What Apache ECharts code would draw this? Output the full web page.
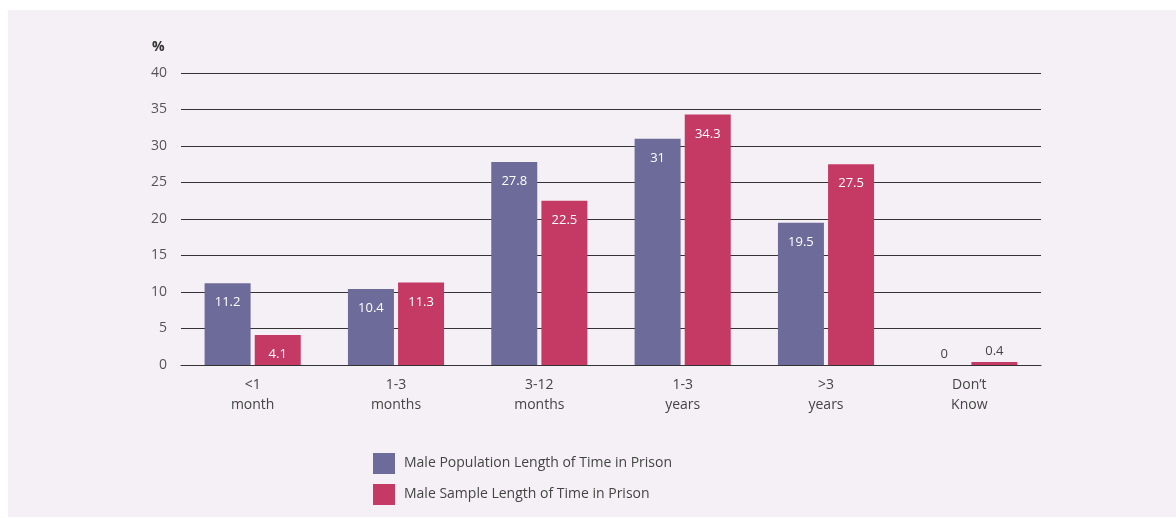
<!DOCTYPE html>
<html>
<head>
<meta charset="utf-8">
<script src="https://cdn.jsdelivr.net/npm/echarts@6/dist/echarts.min.js"></script>
<style>
  html, body { margin: 0; padding: 0; background: #ffffff; }
  #chart { width: 1176px; height: 518px; }
</style>
</head>
<body>
<div id="chart"></div>
<script>
// Length of time in prison: population vs sample (%)
const categories = ['<1\nmonth', '1-3\nmonths', '3-12\nmonths', '1-3\nyears', '>3\nyears', 'Don\u2019t\nKnow'];
const populationValues = [11.2, 10.4, 27.8, 31, 19.5, 0];
const sampleValues = [4.1, 11.3, 22.5, 34.3, 27.5, 0.4];
const seriesNames = ['Male Population Length of Time in Prison', 'Male Sample Length of Time in Prison'];
const yTicks = { min: 0, max: 40, interval: 5 };

const FONT = '"Open Sans", "Noto Sans", sans-serif';
const PURPLE = '#6d6b99';
const RED = '#c43a64';

// Values too small to hold a label inside the bar get it above instead
function labelled(values) {
  return values.map(v => v < 2
    ? { value: v, label: { position: 'top', distance: 4, color: '#444', fontSize: 13 } }
    : v);
}

const chart = echarts.init(document.getElementById('chart'), null, { renderer: 'canvas' });
chart.setOption({
  backgroundColor: '#ffffff',
  animation: false,
  textStyle: { fontFamily: FONT },
  graphic: [
    { type: 'rect', z: -10, shape: { x: 8, y: 10, width: 1168, height: 507 }, style: { fill: '#f5f0f6' } },
    { type: 'text', left: 152, top: 40, style: { text: '%', font: 'bold 14px ' + FONT, fill: '#333' } }
  ],
  grid: { left: 181, right: 135, top: 73, bottom: 153, containLabel: false },
  legend: {
    orient: 'vertical',
    left: 373,
    top: 453,
    padding: 0,
    itemWidth: 22,
    itemHeight: 21,
    itemGap: 10,
    icon: 'rect',
    textStyle: { fontSize: 14, color: '#444', fontFamily: FONT, padding: [0, 0, 0, 4] },
    data: seriesNames
  },
  xAxis: {
    type: 'category',
    data: categories,
    axisLine: { show: true, lineStyle: { color: '#333', width: 1 } },
    axisTick: { show: false },
    axisLabel: { fontSize: 14, color: '#444', lineHeight: 20, margin: 10, fontFamily: FONT }
  },
  yAxis: {
    type: 'value',
    min: yTicks.min,
    max: yTicks.max,
    interval: yTicks.interval,
    axisLine: { show: false },
    axisTick: { show: false },
    axisLabel: { fontSize: 14, color: '#555', margin: 14, fontFamily: FONT },
    splitLine: { lineStyle: { color: '#333', width: 1 } }
  },
  series: [
    {
      name: seriesNames[0],
      type: 'bar',
      data: labelled(populationValues),
      barWidth: 46,
      barGap: '9%',
      itemStyle: { color: PURPLE },
      label: { show: true, position: 'insideTop', distance: 13, color: '#ffffff', fontSize: 13, fontFamily: FONT }
    },
    {
      name: seriesNames[1],
      type: 'bar',
      data: labelled(sampleValues),
      barWidth: 46,
      itemStyle: { color: RED },
      label: { show: true, position: 'insideTop', distance: 13, color: '#ffffff', fontSize: 13, fontFamily: FONT }
    }
  ]
});
</script>
</body>
</html>
